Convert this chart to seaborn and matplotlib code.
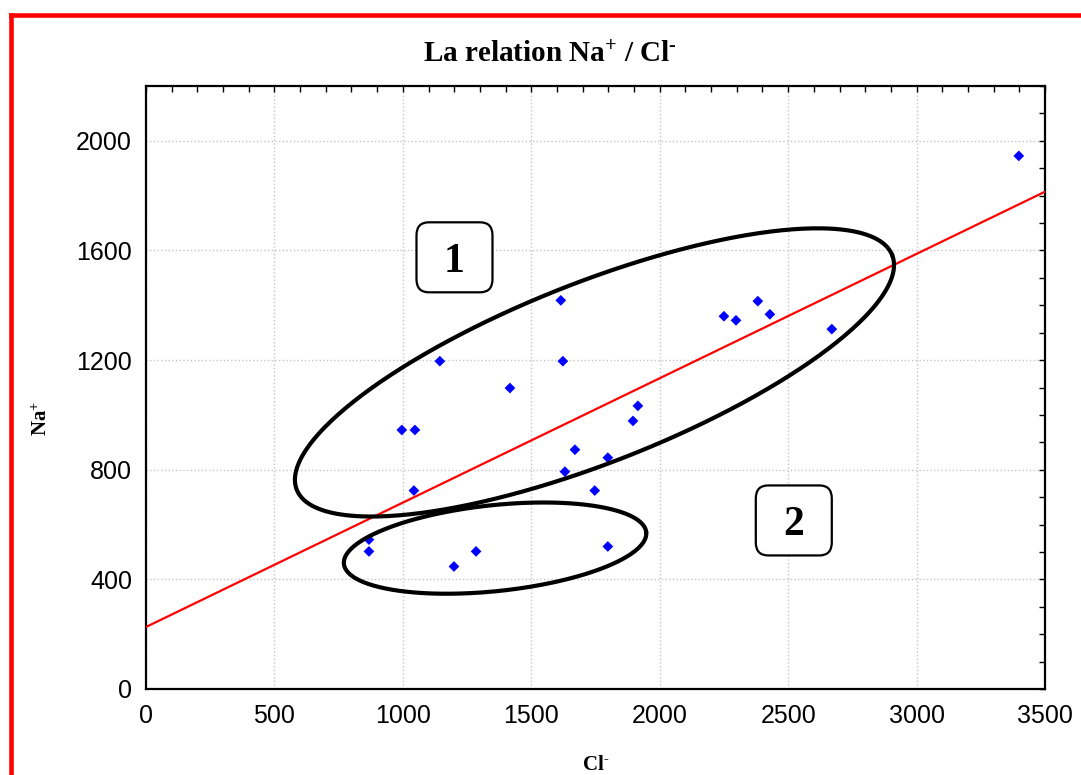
import numpy as np
import pandas as pd
import seaborn as sns
from matplotlib import pyplot as plt
from matplotlib.lines import Line2D
from matplotlib.patches import FancyBboxPatch
from matplotlib.ticker import MultipleLocator

# Cl- / Na+ (mg/l)
cl = [3398, 1615, 1623, 1144, 1417, 996, 1047, 1043, 1670, 1631, 1798, 1747,
      1896, 1915, 2250, 2297, 2382, 2429, 2670, 868, 868, 1199, 1285, 1798]
na = [1945, 1418, 1196, 1196, 1098, 945, 945, 724, 873, 793, 844, 724,
      978, 1033, 1360, 1345, 1415, 1367, 1313, 545, 502, 447, 502, 520]

group_labels = ["1", "2"]

df = pd.DataFrame({"Cl": cl, "Na": na})

sns.set_style("white")
plt.rcParams["font.family"] = ["Liberation Sans", "DejaVu Sans"]
plt.rcParams["text.color"] = "black"
plt.rcParams["mathtext.fontset"] = "custom"
plt.rcParams["mathtext.rm"] = "Liberation Serif:bold"
plt.rcParams["mathtext.it"] = "Liberation Serif:bold"
plt.rcParams["mathtext.bf"] = "Liberation Serif:bold"

fig = plt.figure(figsize=(10.81, 7.75), dpi=100)
ax = fig.add_axes([146 / 1081, 1 - 689 / 775, 899 / 1081, 603 / 775])
ax.set_xlim(0, 3500)
ax.set_ylim(0, 2200)

sns.regplot(x="Cl", y="Na", data=df, scatter=False, ci=None, truncate=False,
            color="#ff0000", line_kws={"lw": 1.6, "zorder": 3}, ax=ax)
sns.scatterplot(x="Cl", y="Na", data=df, marker="D", s=30, color="#0000ff",
                edgecolor="none", zorder=4, ax=ax)

ax.set_xlim(0, 3500)
ax.set_ylim(0, 2200)
ax.xaxis.set_major_locator(MultipleLocator(500))
ax.xaxis.set_minor_locator(MultipleLocator(100))
ax.yaxis.set_major_locator(MultipleLocator(400))
ax.yaxis.set_minor_locator(MultipleLocator(100))
ax.grid(True, which="major", color="#c4c4c4", linestyle=":", lw=1.0)
ax.tick_params(which="both", direction="in", top=True, right=True,
               length=4, width=1.0, color="black")
ax.tick_params(axis="both", labelsize=18, labelcolor="black")
ax.tick_params(axis="x", pad=11)
ax.tick_params(axis="y", pad=10)
for sp in ax.spines.values():
    sp.set_color("black")
    sp.set_linewidth(1.6)
ax.set_xlabel("")
ax.set_ylabel("")

# group ellipses, sized in screen pixels
px_x = ax.bbox.width / 3500
px_y = ax.bbox.height / 2200


def ellipse(cx, cy, a, b, ang):
    t = np.linspace(0, 2 * np.pi, 400)
    th = np.radians(ang)
    dx = a * np.cos(t) * np.cos(th) - b * np.sin(t) * np.sin(th)
    dy = a * np.cos(t) * np.sin(th) + b * np.sin(t) * np.cos(th)
    ax.plot(cx + dx / px_x, cy + dy / px_y, color="black", lw=3, zorder=5)


ellipse(1746, 1155, 320, 90, 21.5)
ellipse(1359, 514, 152, 43, 6)

# numbered boxes
for lab, (bx, by) in zip(group_labels, [(1201, 1575), (2522, 615)]):
    w, h = 76 / px_x, 70 / px_y
    ax.add_patch(FancyBboxPatch((bx - w / 2, by - h / 2), w, h,
                                boxstyle="round,pad=0,rounding_size=48",
                                fc="white", ec="black", lw=1.6, zorder=6))
    ax.text(bx, by, lab, ha="center", va="center_baseline", fontsize=30,
            fontweight="bold", family="Liberation Serif", color="black",
            zorder=7)

fig.text(549.5 / 1081, 1 - 62 / 775, r"La relation Na$^{+}$ / Cl$^{\text{-}}$",
         ha="center", va="baseline", fontsize=21, fontweight="bold",
         family="Liberation Serif", color="black")
fig.text(596 / 1081, 1 - 770 / 775, r"Cl$^{\text{-}}$", ha="center",
         va="baseline", fontsize=15, fontweight="bold",
         family="Liberation Serif", color="black")
fig.text(42 / 1081, 1 - 418 / 775, r"Na$^{+}$", ha="center", va="center",
         rotation=90, fontsize=15, fontweight="bold", family="Liberation Serif",
         color="black")

# red frame on top and left
fig.add_artist(Line2D([10.5 / 1081, 1], [1 - 14.5 / 775] * 2, color="#ff0000",
                      lw=3.3, solid_capstyle="projecting",
                      transform=fig.transFigure))
fig.add_artist(Line2D([10.5 / 1081] * 2, [0, 1 - 14.5 / 775], color="#ff0000",
                      lw=3.3, solid_capstyle="projecting",
                      transform=fig.transFigure))

fig.savefig("out.png", dpi=100)
